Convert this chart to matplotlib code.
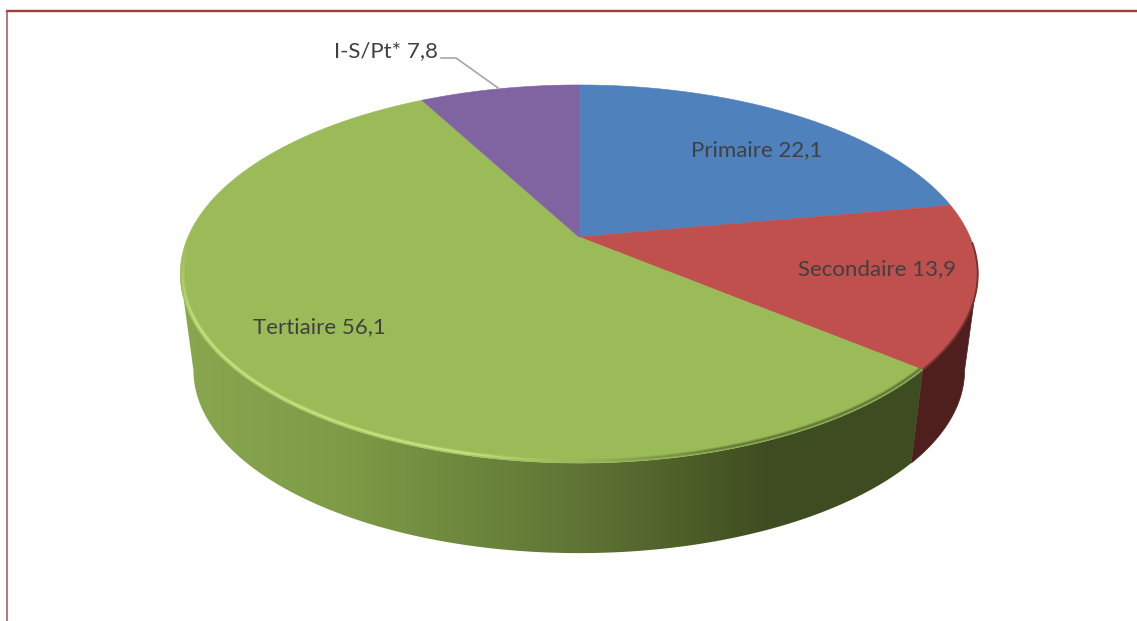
import numpy as np
import matplotlib
matplotlib.use("Agg")
import matplotlib.pyplot as plt
from matplotlib.collections import LineCollection
from matplotlib.colors import LinearSegmentedColormap, to_rgb
from matplotlib.patches import Polygon

categories = ["Primaire", "Secondaire", "Tertiaire", "I-S/Pt*"]
values = [22.1, 13.9, 56.1, 7.8]
colors = ["#4f81bd", "#c0504d", "#9bbb59", "#8064a2"]
label_pos = [(757, 150), (877, 269), (319, 327), (386, 51)]

plt.rcParams["font.family"] = ["Lato", "DejaVu Sans"]

# perspective of the pie, in pixels of the reference
cx, cy, rad, persp = 579, 237, 391, 0.1958
ytop = 135.4
bottom_scale, bottom_cy = 0.967, 334.5


def top_rim(theta):
    # theta in degrees, clockwise from 12 o'clock
    t = np.radians(theta)
    u, v = np.sin(t), np.cos(t)
    d = 1 + persp * v
    return cx + rad * u / d, (cy - ytop * v) / d


def bottom_rim(theta):
    x, y = top_rim(theta)
    return cx + (x - cx) * bottom_scale, bottom_cy + (y - cy) * bottom_scale


def arc(func, a, b):
    return np.column_stack(func(np.linspace(a, b, 200)))


fig = plt.figure(figsize=(11.37, 6.21), dpi=100)
ax = fig.add_axes([0, 0, 1, 1])

edges = np.concatenate([[0], np.cumsum(values)]) / sum(values) * 360
right_limit = np.degrees(np.arccos(-persp))
left_limit = 360 - right_limit

# side of the pie: red part, then the green part with a gradient
red_a, red_b = right_limit, edges[2]
red_side = np.vstack([arc(top_rim, red_a, red_b), arc(bottom_rim, red_b, red_a)])
ax.add_patch(Polygon(red_side, closed=True, fc="#4f1f1d", ec="#4f1f1d", lw=0.5, zorder=2))

green_a, green_b = edges[2], left_limit
green_side = np.vstack([arc(top_rim, green_a, green_b), arc(bottom_rim, green_b, green_a)])
clip = Polygon(green_side, closed=True, fc="none", ec="none", transform=ax.transData)
ax.add_patch(clip)
stops = [(170, "#8aa84f"), (350, "#7d9a46"), (450, "#6f8a3e"), (580, "#5f7435"),
         (680, "#4f6029"), (770, "#3f4c21"), (925, "#3f4c21")]
span = stops[-1][0] - stops[0][0]
cmap = LinearSegmentedColormap.from_list(
    "side", [((s[0] - stops[0][0]) / span, s[1]) for s in stops], N=512)
grad = ax.imshow(np.linspace(0, 1, 800)[None, :], cmap=cmap, aspect="auto",
                 interpolation="bilinear",
                 extent=(stops[0][0], stops[-1][0], 560, 260), zorder=2)
grad.set_clip_path(clip)

# top face
for i, color in enumerate(colors):
    a, b = edges[i], edges[i + 1]
    pts = np.vstack([[cx, cy], arc(top_rim, a, b)])
    ax.add_patch(Polygon(pts, closed=True, fc=color, ec=color, lw=0.4, zorder=3))

# bevel along the front rim, soft wide line under a narrow one
green = np.array(to_rgb(colors[2]))
light = np.array(to_rgb("#c8e57e"))
dark = np.array(to_rgb("#5f7835"))
theta = np.linspace(edges[2], left_limit + 10, 400)
x, y = top_rim(theta)
x = cx + (x - cx) * 0.994
y = cy + (y - cy) * 0.990
pts = np.column_stack([x, y])
segs = np.stack([pts[:-1], pts[1:]], axis=1)
mix = []
for th, xm in zip(theta[:-1], x[:-1]):
    if xm < 565:
        f = np.clip((565 - xm) / 100, 0, 1) * np.clip((left_limit + 10 - th) / 25, 0, 1)
        mix.append(green + (light - green) * f)
    else:
        f = np.clip((xm - 575) / 160, 0, 1)
        mix.append(green + (dark - green) * f)
mix = np.array(mix)
wide = np.column_stack([mix, np.full(len(mix), 0.4)])
ax.add_collection(LineCollection(segs, colors=wide, linewidths=3.0, zorder=4))
ax.add_collection(LineCollection(segs, colors=mix, linewidths=1.3, zorder=4))

red_rim = arc(top_rim, edges[1] + 12, edges[2])
ax.plot(red_rim[:, 0], red_rim[:, 1], color="#7a3331", lw=1.4, zorder=4,
        solid_capstyle="butt")

# labels and leader of the last slice
for name, val, (lx, ly) in zip(categories, values, label_pos):
    ax.text(lx, ly, f"{name} {val}".replace(".", ","), ha="center", va="center",
            fontsize=16, color="#404040", zorder=6)
lead_x, lead_y = top_rim((edges[3] + edges[4]) / 2)
ax.plot([441, 456, lead_x], [58, 58, lead_y], color="#a6a6a6", lw=1.2, zorder=5)

# frame
ax.plot([6.5, 1137], [11, 11], color="#a33b38", lw=1.7, zorder=7)
ax.plot([6.5, 6.5], [11, 621], color="#a8504d", lw=1.1, zorder=7)

ax.set_xlim(0, 1137)
ax.set_ylim(621, 0)
ax.axis("off")
fig.savefig("out.png", dpi=100, facecolor="white")
